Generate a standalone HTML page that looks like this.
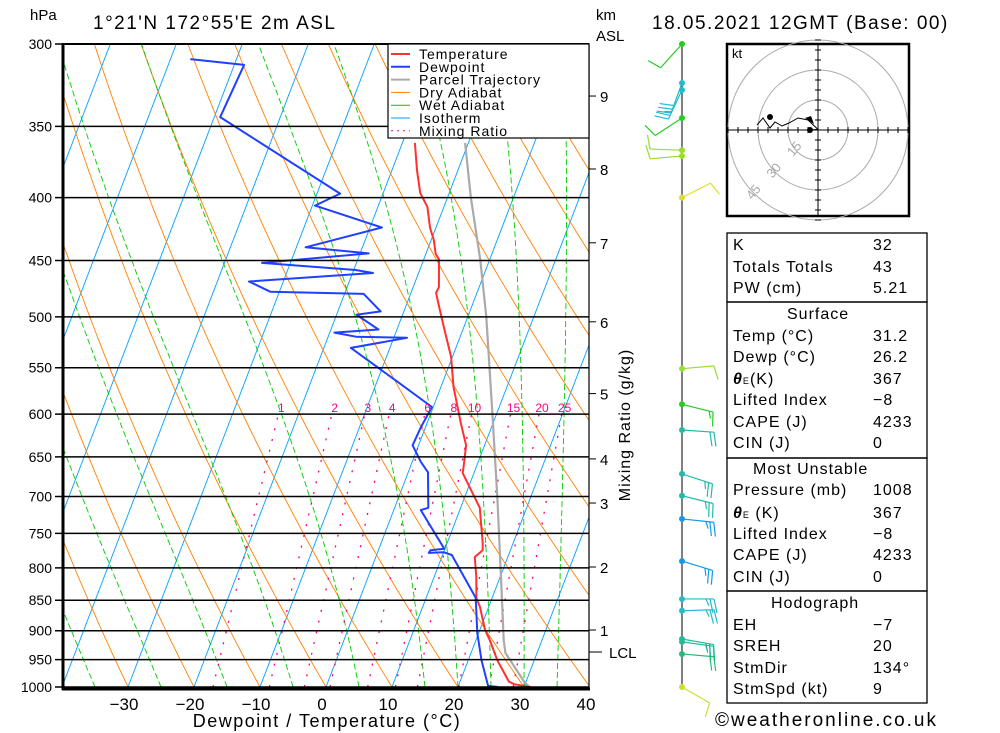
<!DOCTYPE html>
<html><head><meta charset="utf-8"><style>
body{margin:0;background:#fff;}
#wrap{position:relative;width:1000px;height:733px;overflow:hidden;background:#fff;font-family:"Liberation Sans",sans-serif;}
svg text{font-family:"Liberation Sans",sans-serif;}
.tbl{position:absolute;font-size:16px;letter-spacing:1px;color:#000;}
</style></head><body>
<div id="wrap">
<svg id="chart" width="1000" height="733" xmlns="http://www.w3.org/2000/svg">
<defs><clipPath id="plotclip"><rect x="63" y="44" width="526" height="644"/></clipPath></defs>
<g id="grid" clip-path="url(#plotclip)"></g>
<g id="series" clip-path="url(#plotclip)"></g>
<g id="axes"></g>
<g id="winds"></g>
<g id="hodo"></g>
</svg>
<div class="tbl" style="left:733px;top:237px">K</div>
<div class="tbl" style="left:873px;top:237px">32</div>
<div class="tbl" style="left:733px;top:259px">Totals Totals</div>
<div class="tbl" style="left:873px;top:259px">43</div>
<div class="tbl" style="left:733px;top:280px">PW (cm)</div>
<div class="tbl" style="left:873px;top:280px">5.21</div>
<div class="tbl" style="left:787px;top:306px">Surface</div>
<div class="tbl" style="left:733px;top:328px">Temp (°C)</div>
<div class="tbl" style="left:873px;top:328px">31.2</div>
<div class="tbl" style="left:733px;top:349px">Dewp (°C)</div>
<div class="tbl" style="left:873px;top:349px">26.2</div>
<div class="tbl" style="left:733px;top:371px"><i><b>θ</b></i><span style="font-size:9px">E</span>(K)</div>
<div class="tbl" style="left:873px;top:371px">367</div>
<div class="tbl" style="left:733px;top:392px">Lifted Index</div>
<div class="tbl" style="left:873px;top:392px">−8</div>
<div class="tbl" style="left:733px;top:414px">CAPE (J)</div>
<div class="tbl" style="left:873px;top:414px">4233</div>
<div class="tbl" style="left:733px;top:435px">CIN (J)</div>
<div class="tbl" style="left:873px;top:435px">0</div>
<div class="tbl" style="left:753px;top:461px">Most Unstable</div>
<div class="tbl" style="left:733px;top:482px">Pressure (mb)</div>
<div class="tbl" style="left:873px;top:482px">1008</div>
<div class="tbl" style="left:733px;top:505px"><i><b>θ</b></i><span style="font-size:9px">E</span> (K)</div>
<div class="tbl" style="left:873px;top:505px">367</div>
<div class="tbl" style="left:733px;top:526px">Lifted Index</div>
<div class="tbl" style="left:873px;top:526px">−8</div>
<div class="tbl" style="left:733px;top:547px">CAPE (J)</div>
<div class="tbl" style="left:873px;top:547px">4233</div>
<div class="tbl" style="left:733px;top:569px">CIN (J)</div>
<div class="tbl" style="left:873px;top:569px">0</div>
<div class="tbl" style="left:771px;top:595px">Hodograph</div>
<div class="tbl" style="left:733px;top:617px">EH</div>
<div class="tbl" style="left:873px;top:617px">−7</div>
<div class="tbl" style="left:733px;top:638px">SREH</div>
<div class="tbl" style="left:873px;top:638px">20</div>
<div class="tbl" style="left:733px;top:660px">StmDir</div>
<div class="tbl" style="left:873px;top:660px">134°</div>
<div class="tbl" style="left:733px;top:681px">StmSpd (kt)</div>
<div class="tbl" style="left:873px;top:681px">9</div>
<div class="tbl" style="left:715px;top:710px;font-size:19px;letter-spacing:2px">©weatheronline.co.uk</div>
</div>
<script>
const pressureLevels=[300,350,400,450,500,550,600,650,700,750,800,850,900,950,1000];
const tempTicks=[-30,-20,-10,0,10,20,30,40];
const mixRatios=[1,2,3,4,6,8,10,15,20,25];
const kmLabels=["9","8","7","6","5","4","3","2","1","LCL"];
const kmPres=[330.7,379.1,435.3,504.7,577.3,652.4,708.6,798.8,898.8,936.6];
const tempP=[1000,995,990,951,916,899,861,846,814,784,774,764,715,670,657,636,610,570,539,510,487,478,473,449,444.5,433,423,407,396.5,380,361];
const tempT=[31,28.4,27.4,24.4,22.1,20.8,18.7,17.6,16.4,15.0,15.8,15.4,12.9,8.3,7.9,7.2,5.1,1.9,-0.2,-3.0,-5.3,-6.2,-6.1,-7.7,-8.5,-9.6,-10.9,-12.5,-14.4,-16.2,-18.1];
const dewP=[1000,998,951,904,846,781,777,778,774,772,718,715,669,656,636,615,592,565,530,520,519,515,512,498,495,479,477,468,460.6,458,452,444,439,423,406,397,344,312,308.6];
const dewT=[26.1,24.5,22.0,19.8,17.5,11.4,10.0,7.8,7.9,9.9,4.1,5.1,3.0,1.3,-0.9,-0.7,-0.2,-6.8,-15.9,-8.0,-15.8,-19.3,-12.8,-17.0,-13.5,-17.1,-31.4,-35.2,-16.9,-19.7,-34.3,-18.7,-28.6,-18.2,-29.6,-26.5,-49.1,-48.5,-57];
const parcelP=[1000,990,938,916,818,700,592,500,449.6,399.5,361];
const parcelT=[30.8,29.7,25.2,24.2,20.3,14.9,8.9,2.8,-1.4,-6.5,-10.5];
const windP=[300,322.7,327,344.6,366,370,400,551,589,618,671,699,730,790,848,867,914,919,940,1000];
const windDir=[222,200,205,237,272,265,63,85,104,94,108,104,96,107,90,88,100,98,95,120];
const windSpd=[10,30,25,10,10,10,10,10,15,20,25,25,25,25,25,25,25,25,20,10];
const windCol=["#22cc22","#22bbcc","#22bbcc","#22cc22","#99dd33","#99dd33","#dddd33","#99dd33","#22cc22","#22bbaa","#22bbaa","#22bbaa","#1199ee","#1199ee","#22bbcc","#22bbcc","#22bb99","#22bb99","#22bb77","#ccdd33"];
const hodoU=[-4,0,-5,-10,-14.5,-18,-21.5,-24,-27.5,-30.5];
const hodoV=[0,0.3,5,6,3.5,2,4,1,6,2.5];

const NS="http://www.w3.org/2000/svg";
function el(tag,attrs,parent){const e=document.createElementNS(NS,tag);for(const k in attrs)e.setAttribute(k,attrs[k]);parent.appendChild(e);return e;}
function yP(p){return 44+643*Math.log(p/300)/Math.log(10/3);}
function xT(T,p){return 128+(T+30)*6.6+0.383*(687-yP(p));}
const grid=document.getElementById('grid'),series=document.getElementById('series'),axes=document.getElementById('axes'),winds=document.getElementById('winds'),hodo=document.getElementById('hodo');
function poly(pts){return pts.map(q=>q[0].toFixed(1)+','+q[1].toFixed(1)).join(' ');}

for(let T=-120;T<=40;T+=10){
  const l=el('line',{x1:xT(T,1000),y1:yP(1000),x2:xT(T,300),y2:yP(300),stroke:'#00a0ff','stroke-width':0.9},grid);
  
  
}
for(let th=-50;th<=220;th+=10){
  const pts=[];for(let p=1000;p>=300;p-=10){pts.push([xT((th+273.15)*Math.pow(p/1000,0.2857)-273.15,p),yP(p)]);}
  const l=el('polyline',{points:poly(pts),fill:'none',stroke:'#ff8000','stroke-width':0.9},grid);
  
  
}
function dTdp(T,p){const Tk=T+273.15;const es=6.112*Math.exp(17.67*T/(T+243.5));const rs=0.622*es/(p-es);return (287*Tk+2.5e6*rs)/(p*(1004+2.5e6*2.5e6*rs*0.622/(287*Tk*Tk)));}
[-35,-25,-15,-5,5,15,20,25,30,35].forEach(T0=>{
  let T=T0;const pts=[[xT(T,1000),yP(1000)]];
  for(let p=1000;p>300;p-=5){T-=dTdp(T,p)*5;pts.push([xT(T,p-5),yP(p-5)]);}
  const l=el('polyline',{points:poly(pts),fill:'none',stroke:'#00cc00','stroke-width':0.9,'stroke-dasharray':'6,3'},grid);
  
  
});
function tdW(w,p){const e=w*p/(622+w);const a=Math.log(e/6.112);return 243.5*a/(17.67-a);}
mixRatios.forEach(w=>{
  const l=el('line',{x1:xT(tdW(w,1000),1000),y1:yP(1000),x2:xT(tdW(w,600),600),y2:yP(600),stroke:'#ff0080','stroke-width':1.3,'stroke-dasharray':'2,9'},grid);
  
  
  const t=el('text',{x:xT(tdW(w,600),600)+3,y:yP(600)-2,'font-size':12,fill:'#ff0080','text-anchor':'middle'},axes);
  t.textContent=w;
  
  
});
pressureLevels.forEach(p=>{
  const l=el('line',{x1:55,y1:yP(p),x2:589,y2:yP(p),stroke:'#000','stroke-width':1.5},axes);
  
  
  const t=el('text',{x:52,y:yP(p)+5,'font-size':14,'text-anchor':'end',fill:'#000'},axes);
  t.textContent=p;
  
  
});
function drawLine(P,T,color,w,name){
  const pts=P.map((p,i)=>[xT(T[i],p),yP(p)]);
  const l=el('polyline',{points:poly(pts),fill:'none',stroke:color,'stroke-width':w,'stroke-linejoin':'round'},series);
  
  
}
drawLine(parcelP,parcelT,'#aaaaaa',2.2,'parcel-trajectory-line');
drawLine(tempP,tempT,'#ff3030',2,'temperature-line');
drawLine(dewP,dewT,'#2040ff',2,'dewpoint-line');
const fr=el('rect',{x:63,y:44,width:526,height:644,fill:'none',stroke:'#000','stroke-width':1.2},axes);


const lb=el('line',{x1:63,y1:43,x2:63,y2:690,stroke:'#000','stroke-width':3},axes);


const bb=el('line',{x1:62,y1:689,x2:590,y2:689,stroke:'#000','stroke-width':3},axes);


const tb=el('line',{x1:62,y1:44,x2:589,y2:44,stroke:'#000','stroke-width':2},axes);


tempTicks.forEach(v=>{
  const t=el('text',{x:xT(v,1000)-4,y:710,'font-size':17,'text-anchor':'middle',fill:'#000'},axes);
  t.textContent=v<0?'−'+(-v):v;
  
  
});
kmLabels.forEach((k,i)=>{
  const y=yP(kmPres[i]);
  const l=el('line',{x1:589,y1:y,x2:k==='LCL'?602:596,y2:y,stroke:'#000','stroke-width':1},axes);
  
  
  const t=el('text',{x:k==='LCL'?609:600,y:y+6,'font-size':15,fill:'#000'},axes);
  t.textContent=k;
  
  
});
function txt(x,y,s,size,name,extra){const t=el('text',Object.assign({x:x,y:y,'font-size':size,fill:'#000'},extra||{}),axes);t.textContent=s;return t;}
txt(30,20,'hPa',15,'pressure-axis-unit');
txt(93,29,'1°21\'N 172°55\'E 2m ASL',19,'location-title',{'letter-spacing':'1.5'});
txt(596,20,'km',15,'km-axis-unit');
txt(596,41,'ASL',15,'km-axis-asl');
txt(652,29,'18.05.2021 12GMT (Base: 00)',19,'date-title',{'letter-spacing':'1.5'});
txt(327,727,'Dewpoint / Temperature (°C)',18,'x-axis-title',{'text-anchor':'middle','letter-spacing':'1.5'});
txt(0,0,'Mixing Ratio (g/kg)',16,'mixing-ratio-axis-title',{'text-anchor':'middle',transform:'translate(630,425) rotate(-90)','letter-spacing':'1'});
const lg=el('rect',{x:388,y:44,width:201,height:94,fill:'#fff',stroke:'#000','stroke-width':1.2},axes);


[['Temperature','#ff3030',''],['Dewpoint','#2040ff',''],['Parcel Trajectory','#aaaaaa',''],['Dry Adiabat','#ff8000',''],['Wet Adiabat','#00cc00',''],['Isotherm','#00a0ff',''],['Mixing Ratio','#ff0080','2,4']].forEach((e,i)=>{
  const y=54+i*12.8;
  const l=el('line',{x1:391,y1:y,x2:410,y2:y,stroke:e[1],'stroke-width':i<3?2:1,'stroke-dasharray':e[2]},axes);
  
  
  txt(419,y+5,e[0],14,'legend-entry',{'letter-spacing':'1'});
});
const wl=el('line',{x1:682,y1:44,x2:682,y2:688,stroke:'#000','stroke-width':1},winds);


windP.forEach((p,i)=>{
  const y=yP(p),x=682,d=windDir[i]*Math.PI/180,c=windCol[i];
  const ux=Math.sin(d),uy=-Math.cos(d);
  const ex=x+ux*32,ey=y+uy*32;
  const g=el('g',{stroke:c,'stroke-width':1.2,fill:'none'},winds);
  
  
  el('line',{x1:x,y1:y,x2:ex,y2:ey},g);
  let s=windSpd[i],k=0;
  const bx=-uy,by=ux;
  while(s>=5){
    const len=s>=10?14:7;
    const sx=ex-ux*k*4,sy=ey-uy*k*4;
    el('line',{x1:sx,y1:sy,x2:sx+bx*len+ux*3,y2:sy+by*len+uy*3},g);
    s-=s>=10?10:5;k++;
  }
  el('circle',{cx:x,cy:y,r:3,fill:c,stroke:'none'},g);
});
const hb=el('rect',{x:727,y:44,width:182,height:172,fill:'#fff',stroke:'#000','stroke-width':2.5},hodo);


const cx=818,cy=130,sc=2;
[15,30,45].forEach(r=>{
  const c=el('circle',{cx:cx,cy:cy,r:r*sc,fill:'none',stroke:'#aaa','stroke-width':1},hodo);
  
  
  const t=el('text',{x:0,y:0,'font-size':13,fill:'#aaa','text-anchor':'middle',transform:'translate('+(cx-r*sc*0.68)+','+(cy+r*sc*0.72)+') rotate(-50)'},hodo);
  t.textContent=r;
  
  
});
el('line',{x1:728,y1:cy,x2:908,y2:cy,stroke:'#000','stroke-width':1},hodo);
el('line',{x1:cx,y1:45,x2:cx,y2:215,stroke:'#000','stroke-width':1},hodo);
for(let k=-45;k<=45;k+=5){if(k===0)continue;el('line',{x1:cx+k*sc,y1:cy-3,x2:cx+k*sc,y2:cy+3,stroke:'#000'},hodo);el('line',{x1:cx-3,y1:cy+k*sc,x2:cx+3,y2:cy+k*sc,stroke:'#000'},hodo);}
const kt=el('text',{x:732,y:58,'font-size':13,fill:'#000'},hodo);kt.textContent='kt';


const hpts=hodoU.map((u,i)=>[cx+u*sc,cy-hodoV[i]*sc]);
const hl=el('polyline',{points:poly(hpts),fill:'none',stroke:'#000','stroke-width':1},hodo);


el('circle',{cx:hpts[0][0],cy:hpts[0][1],r:3,fill:'#000'},hodo);
el('circle',{cx:cx-24*sc,cy:cy-6.5*sc,r:3,fill:'#000'},hodo);
const sm=el('polygon',{points:(cx-4)+','+(cy-6)+' '+(cx-13)+','+(cy-12)+' '+(cx-7)+','+(cy-14),fill:'#000'},hodo);


[[233,302],[302,458],[458,591],[591,703]].forEach(b=>{
  const r=el('rect',{x:727,y:b[0],width:200,height:b[1]-b[0],fill:'none',stroke:'#000','stroke-width':1.3},axes);
  
  
});
</script>
</body></html>
